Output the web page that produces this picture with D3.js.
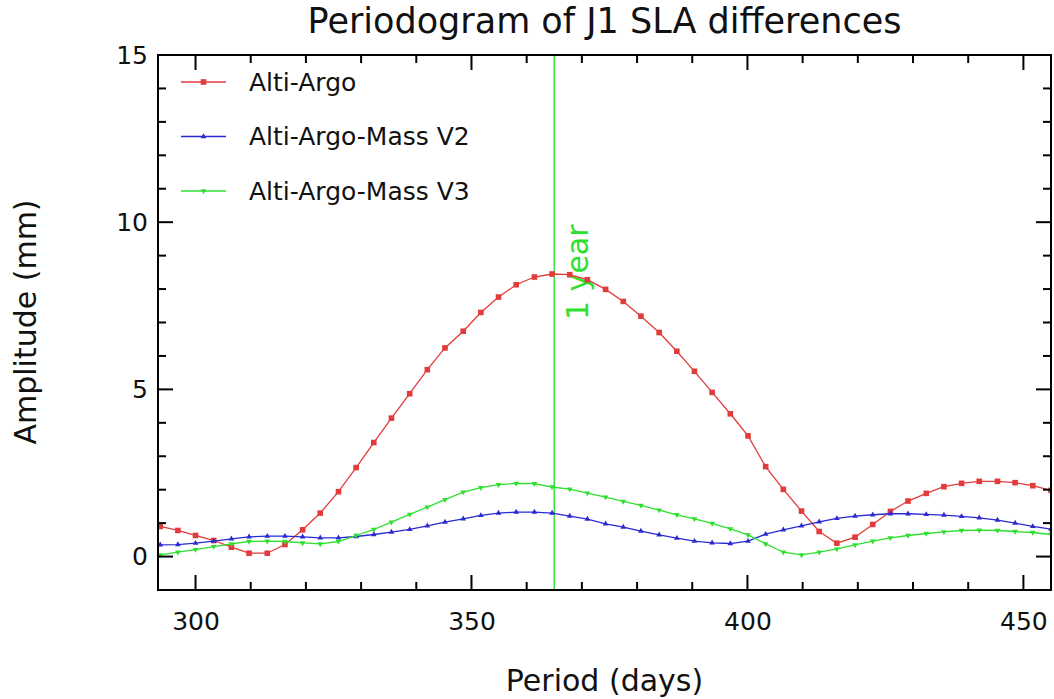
<!DOCTYPE html>
<html><head><meta charset="utf-8">
<script src="https://cdn.jsdelivr.net/npm/d3@7"></script>
<style>body{margin:0;background:#fff;} text{font-family:"DejaVu Sans",sans-serif;}</style>
</head><body>
<svg id="chart" width="1054" height="699"></svg>
<script>
const periods = [293.6,296.8,300.0,303.3,306.5,309.7,313.0,316.2,319.4,322.6,325.9,329.1,332.3,335.5,338.8,342.0,345.2,348.5,351.7,354.9,358.1,361.4,364.6,367.8,371.0,374.3,377.5,380.7,384.0,387.2,390.4,393.6,396.9,400.1,403.3,406.5,409.8,413.0,416.2,419.5,422.7,425.9,429.1,432.4,435.6,438.8,442.0,445.3,448.5,451.7,455.0];
const altiArgo = [0.90,0.78,0.63,0.48,0.28,0.10,0.10,0.36,0.80,1.30,1.94,2.66,3.41,4.14,4.87,5.59,6.24,6.74,7.30,7.76,8.13,8.36,8.45,8.43,8.28,7.99,7.63,7.19,6.70,6.14,5.54,4.91,4.27,3.61,2.69,2.01,1.36,0.75,0.40,0.58,0.96,1.35,1.66,1.89,2.09,2.19,2.25,2.25,2.21,2.12,1.98];
const massV2 = [0.35,0.36,0.40,0.46,0.53,0.59,0.61,0.61,0.59,0.56,0.56,0.60,0.66,0.73,0.81,0.92,1.03,1.13,1.23,1.30,1.33,1.33,1.30,1.21,1.12,0.98,0.88,0.76,0.65,0.55,0.46,0.41,0.39,0.46,0.67,0.80,0.92,1.04,1.14,1.21,1.25,1.28,1.28,1.26,1.24,1.20,1.16,1.09,1.00,0.90,0.82];
const massV3 = [0.05,0.13,0.21,0.30,0.38,0.45,0.46,0.45,0.41,0.38,0.45,0.63,0.81,1.03,1.26,1.48,1.70,1.93,2.06,2.15,2.19,2.18,2.08,2.02,1.90,1.78,1.65,1.53,1.39,1.25,1.13,0.99,0.83,0.65,0.38,0.13,0.05,0.13,0.23,0.35,0.46,0.56,0.63,0.69,0.74,0.78,0.79,0.78,0.75,0.72,0.66];
const seriesNames = ["Alti-Argo","Alti-Argo-Mass V2","Alti-Argo-Mass V3"];
const seriesColors = ["#e23b3b","#2a2ad2","#2ee02e"];
const xTicks = [300,350,400,450];
const yTicks = [0,5,10,15];
const yearPeriod = 365;
const yearLabel = "1 year";
const title = "Periodogram of J1 SLA differences";
const xLabel = "Period (days)";
const yLabel = "Amplitude (mm)";

const svg = d3.select("#chart");
const L=158, R=1051, T=55, B=590;
const x = d3.scaleLinear().domain([293.2,455]).range([L,R]);
const y = d3.scaleLinear().domain([-1,15]).range([B,T]);

const plot = svg.append("g");
const clip = svg.append("clipPath").attr("id","clip").append("rect").attr("x",L).attr("y",T).attr("width",R-L).attr("height",B-T);

// vertical 1 year line
plot.append("line").attr("x1",x(yearPeriod)).attr("x2",x(yearPeriod)).attr("y1",T).attr("y2",B)
  .attr("stroke","#3ee03e").attr("stroke-width",1.5);
plot.append("text").attr("transform",`translate(${x(yearPeriod)+34},320) rotate(-90)`)
  .attr("fill","#2ee02e").attr("font-size",30).text(yearLabel);

const data = [altiArgo, massV2, massV3];
const line = d3.line().x((d,i)=>x(periods[i])).y(d=>y(d));
const g = svg.append("g").attr("clip-path","url(#clip)");
const symUp = d3.symbol().type(d3.symbolTriangle).size(14);
function drawMarker(sel, k, cx, cy){
  if(k===0){
    sel.append("rect").attr("x",cx-2.8).attr("y",cy-2.8).attr("width",5.6).attr("height",5.6).attr("fill",seriesColors[0]);
  } else if(k===1){
    sel.append("path").attr("d",symUp()).attr("transform",`translate(${cx},${cy})`).attr("fill",seriesColors[1]);
  } else {
    sel.append("path").attr("d",symUp()).attr("transform",`translate(${cx},${cy}) rotate(180)`).attr("fill",seriesColors[2]);
  }
}
data.forEach((vals,k)=>{
  g.append("path").datum(vals).attr("d",line).attr("fill","none").attr("stroke",seriesColors[k]).attr("stroke-width",1.3);
  vals.forEach((v,i)=>drawMarker(g,k,x(periods[i]),y(v)));
});

// frame
svg.append("rect").attr("x",L).attr("y",T).attr("width",R-L).attr("height",B-T).attr("fill","none").attr("stroke","#000").attr("stroke-width",2);

// axes with inward ticks
const xMinor = d3.range(300,456,10);
const yMinor = d3.range(-1,16,1);
const axG = svg.append("g").attr("stroke","#000").attr("stroke-width",2);
xMinor.forEach(t=>{
  const len = xTicks.includes(t)?15:8;
  axG.append("line").attr("x1",x(t)).attr("x2",x(t)).attr("y1",B).attr("y2",B-len);
  axG.append("line").attr("x1",x(t)).attr("x2",x(t)).attr("y1",T).attr("y2",T+len);
});
yMinor.forEach(t=>{
  const len = yTicks.includes(t)?15:8;
  axG.append("line").attr("y1",y(t)).attr("y2",y(t)).attr("x1",L).attr("x2",L+len);
  axG.append("line").attr("y1",y(t)).attr("y2",y(t)).attr("x1",R).attr("x2",R-len);
});
// tick labels via d3 axes (lines hidden)
const xAxis = svg.append("g").attr("transform",`translate(0,${B})`).call(d3.axisBottom(x).tickValues(xTicks).tickSize(0).tickPadding(22));
const yAxis = svg.append("g").attr("transform",`translate(${L},0)`).call(d3.axisLeft(y).tickValues(yTicks).tickSize(0).tickPadding(10));
[xAxis,yAxis].forEach(a=>{a.select(".domain").remove(); a.selectAll("text").attr("font-size",25).attr("font-family","DejaVu Sans").attr("fill","#111");});

// titles
svg.append("text").attr("x",(L+R)/2).attr("y",33).attr("text-anchor","middle").attr("font-size",35).attr("fill","#111").text(title);
svg.append("text").attr("x",(L+R)/2).attr("y",691).attr("text-anchor","middle").attr("font-size",30).attr("fill","#111").text(xLabel);
svg.append("text").attr("transform","translate(36,322) rotate(-90)").attr("text-anchor","middle").attr("font-size",30).attr("fill","#111").text(yLabel);

// legend
const lg = svg.append("g");
seriesNames.forEach((n,k)=>{
  const ly = 82 + k*54.5;
  lg.append("line").attr("x1",181).attr("x2",226).attr("y1",ly).attr("y2",ly).attr("stroke",seriesColors[k]).attr("stroke-width",1.3);
  drawMarker(lg,k,203.5,ly);
  lg.append("text").attr("x",249).attr("y",ly).attr("dy","0.35em").attr("font-size",25).attr("fill","#111").text(n);
});
</script>
</body></html>
